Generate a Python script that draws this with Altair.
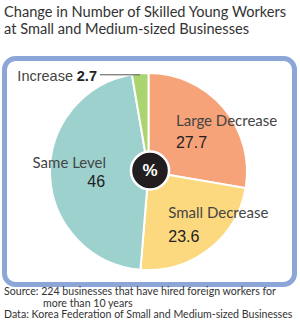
import altair as alt
import pandas as pd

# ---- data ----
categories = ["Large Decrease", "Small Decrease", "Same Level", "Increase"]
values = [27.7, 23.6, 46.0, 2.7]
value_labels = ["27.7", "23.6", "46", "2.7"]
colors = ["#f7a37a", "#fcd97f", "#9dd1ce", "#a9d46f"]

title_lines = ["Change in Number of Skilled Young Workers",
               "at Small and Medium-sized Businesses"]
source_lines = ["Source: 224 businesses that have hired foreign workers for",
                "more than 10 years"]
data_line = "Data: Korea Federation of Small and Medium-sized Businesses"

df = pd.DataFrame({
    "category": categories,
    "value": values,
    "label": value_labels,
    "order": list(range(len(categories))),
})
one = pd.DataFrame({"k": [0]})

NARROW = "Lato"
REG = "Liberation Sans"
CX, CY, R = 148.5, 171.5, 98.5

theta = alt.Theta("value:Q", stack=True)
order = alt.Order("order:Q")

# panel
panel = alt.Chart(one).mark_rect(
    fill="white", stroke="#8ba6d7", strokeWidth=5, cornerRadius=11
).encode(x=alt.value(4.5), x2=alt.value(294.5), y=alt.value(58.5), y2=alt.value(284.5))

pie = alt.Chart(df).mark_arc(stroke="white", strokeWidth=2).encode(
    theta=theta,
    order=order,
    color=alt.Color("category:N", scale=alt.Scale(domain=categories, range=colors), legend=None),
    x=alt.value(CX), y=alt.value(CY), radius=alt.value(R),
)

def lab(cat, field, radius, dx, dy, align, font, size, color, weight="normal"):
    return alt.Chart(df).mark_text(
        align=align, baseline="alphabetic", dx=dx, dy=dy, font=font,
        fontSize=size, color=color, fontWeight=weight
    ).encode(
        theta=theta, order=order,
        x=alt.value(CX), y=alt.value(CY), radius=alt.value(radius),
        text=alt.condition(alt.datum.category == cat, alt.Text(f"{field}:N"), alt.value("")),
    )

labels = [
    lab("Large Decrease", "category", 60, -18.4, -7.1, "left", NARROW, 15, "#444"),
    lab("Large Decrease", "label", 60, -18.4, 14.9, "left", REG, 16, "#222"),
    lab("Small Decrease", "category", 70, -23.1, -8.5, "left", NARROW, 15, "#444"),
    lab("Small Decrease", "label", 70, -23.1, 14.9, "left", REG, 16, "#222"),
    lab("Same Level", "category", 42, -0.5, -5, "right", NARROW, 15, "#444"),
    lab("Same Level", "label", 42, -1.5, 14, "right", REG, 16, "#222"),
    lab("Increase", "category", 97, -67.3, 6.5, "right", REG, 14.5, "#444"),
    lab("Increase", "label", 97, -43.3, 6.5, "right", REG, 14.5, "#222", "bold"),
]

dot = alt.Chart(df).mark_point(filled=True, size=30, color="#222").encode(
    theta=theta, order=order,
    x=alt.value(CX), y=alt.value(CY), radius=alt.value(97),
    opacity=alt.condition(alt.datum.category == "Increase", alt.value(1), alt.value(0)),
)

leader = alt.Chart(one).mark_rule(color="#555", strokeWidth=1).encode(
    x=alt.value(100), x2=alt.value(140), y=alt.value(74.8)
)

center = alt.Chart(one).mark_circle(
    size=1450, color="#221e1f", opacity=1, stroke="white", strokeWidth=2.5
).encode(x=alt.value(CX + 1.5), y=alt.value(CY - 1))

pct = alt.Chart(one).mark_text(
    text="%", font=REG, fontSize=17, fontWeight="bold", color="white",
    align="center", baseline="middle"
).encode(x=alt.value(CX + 1.5), y=alt.value(CY - 1))

def txt(s, x, y, font, size, color="#333"):
    return alt.Chart(one).mark_text(
        text=s, font=font, fontSize=size, color=color, align="left", baseline="alphabetic"
    ).encode(x=alt.value(x), y=alt.value(y))

texts = [
    txt(title_lines[0], 4, 17, NARROW, 14.6),
    txt(title_lines[1], 4, 34, NARROW, 14.6),
    txt(source_lines[0], 4, 295, NARROW, 10.6),
    txt(source_lines[1], 43, 306.5, NARROW, 10.6),
    txt(data_line, 4, 318, NARROW, 10.6),
]

chart = alt.layer(panel, pie, *labels, leader, dot, center, pct, *texts).properties(
    width=300, height=336, autosize="none", padding=0
).configure_view(stroke=None)

chart.save("out.html", embed_options={"renderer": "svg", "actions": False})
